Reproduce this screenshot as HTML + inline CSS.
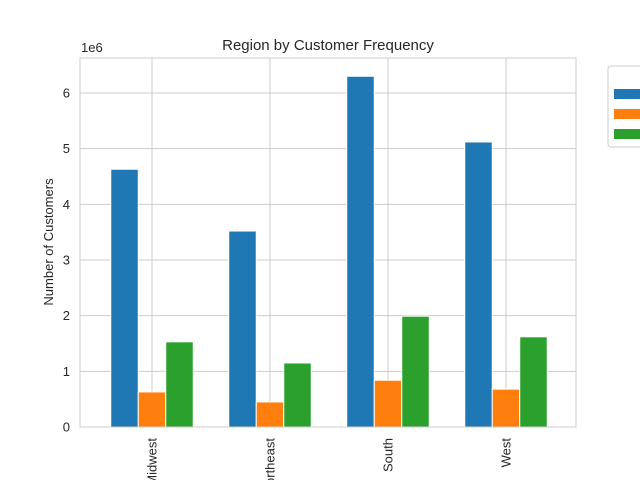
<!DOCTYPE html>
<html><head><meta charset="utf-8"><style>
body{margin:0;background:#fff}
svg text{font-family:"Liberation Sans","DejaVu Sans",sans-serif;fill:#262626}
</style></head><body>
<svg id="chart" width="640" height="480" xmlns="http://www.w3.org/2000/svg">
<rect width="640" height="480" fill="#fff"/>
<g id="grid"></g>
<g id="bars"></g>
<rect x="80" y="58" width="496" height="369" fill="none" stroke="#cccccc" stroke-width="1"/>
<g id="ticks"></g>
<text x="328" y="50" font-size="15" text-anchor="middle">Region by Customer Frequency</text>
<text transform="translate(53,242) rotate(-90)" font-size="13" text-anchor="middle">Number of Customers</text>
<text x="81" y="52" font-size="13">1e6</text>
<g>
<rect x="608" y="66" width="50" height="81" rx="3" fill="#fff" stroke="#cccccc"/>
<rect x="614" y="89" width="30" height="10" fill="#1f77b4"/>
<rect x="614" y="109" width="30" height="10" fill="#ff7f0e"/>
<rect x="614" y="129" width="30" height="10" fill="#2ca02c"/>
</g>
</svg>
<script>
const categories=["Midwest","Northeast","South","West"];
const seriesA=[4.63,3.52,6.30,5.12];
const seriesB=[0.63,0.45,0.84,0.68];
const seriesC=[1.53,1.15,1.99,1.62];
const yTicks=[0,1,2,3,4,5,6];
const colors=["#1f77b4","#ff7f0e","#2ca02c"];
const NS="http://www.w3.org/2000/svg";
const x0=80,x1=576,y0=427,unit=55.67;
const step=118;
function xc(i){return 152+step*i;}
function y(v){return y0-v*unit;}
const grid=document.getElementById('grid'),bars=document.getElementById('bars'),ticks=document.getElementById('ticks');
function mk(tag,attrs,parent){const e=document.createElementNS(NS,tag);for(const k in attrs)e.setAttribute(k,attrs[k]);parent.appendChild(e);return e;}
yTicks.forEach(t=>{
  const l=mk('line',{x1:x0,x2:x1,y1:y(t),y2:y(t),stroke:'#cccccc'},grid);
  
  
  const tx=mk('text',{x:70,y:y(t)+4.5,'font-size':13,'text-anchor':'end'},ticks);
  tx.textContent=t;
  
  
});
categories.forEach((c,i)=>{
  const l=mk('line',{x1:xc(i),x2:xc(i),y1:58,y2:y0,stroke:'#cccccc'},grid);
  
  
  const tx=mk('text',{transform:`translate(${xc(i)+4.5},438) rotate(-90)`,'font-size':13,'text-anchor':'end'},ticks);
  tx.textContent=c;
  
  
});
const bw=27.5;
[seriesA,seriesB,seriesC].forEach((s,k)=>{
  s.forEach((v,i)=>{
    const r=mk('rect',{x:xc(i)+(k-1)*bw-bw/2,y:y(v),width:bw,height:y0-y(v),fill:colors[k],stroke:'#fff','stroke-width':1},bars);
    
    
  });
});
</script>
</body></html>
